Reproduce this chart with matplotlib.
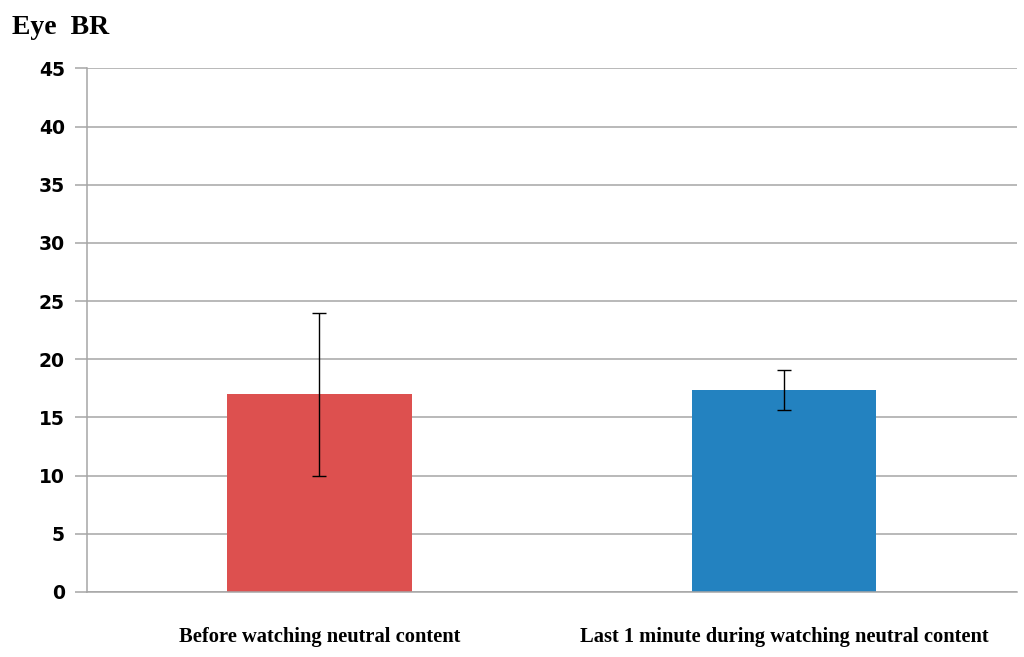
import numpy as np
import matplotlib
matplotlib.use("Agg")
import matplotlib.pyplot as plt

categories = ["Before watching neutral content",
              "Last 1 minute during watching neutral content"]
means = [17.0, 17.35]
errors = [7.0, 1.72]
colors = ["#DD504F", "#2382C0"]
yticks = [0, 5, 10, 15, 20, 25, 30, 35, 40, 45]

fig = plt.figure(figsize=(10.24, 6.57), dpi=100)
ax = fig.add_axes([0.085, 0.099, 0.908, 0.797])

x = np.arange(len(categories))
ax.bar(x, means, width=0.396, color=colors, zorder=2)
ax.errorbar(x, means, yerr=errors, fmt="none", ecolor="black",
            elinewidth=1, capsize=5, capthick=1, zorder=3)

ax.set_xlim(-0.5, 1.5)
ax.set_ylim(0, 45)
ax.set_yticks(yticks)
ax.set_yticklabels([str(t) for t in yticks], fontsize=13.5, fontweight="bold",
                   family="DejaVu Sans")
ax.grid(axis="y", color="#a6a6a6", linewidth=1.1, zorder=0)
ax.tick_params(axis="y", length=9, width=1.1, color="#a6a6a6", pad=7)
ax.set_xticks(x)
ax.set_xticklabels(categories, family="Liberation Serif", fontweight="bold",
                   fontsize=14.8)
ax.tick_params(axis="x", length=0, pad=25)

for side in ["top", "right"]:
    ax.spines[side].set_visible(False)
for side in ["left", "bottom"]:
    ax.spines[side].set_color("#a6a6a6")
    ax.spines[side].set_linewidth(1.1)

fig.text(0.012, 0.958, "Eye  BR", family="Liberation Serif", fontweight="bold",
         fontsize=20, va="center", ha="left")

plt.savefig("out.png", dpi=100)
plt.close()
